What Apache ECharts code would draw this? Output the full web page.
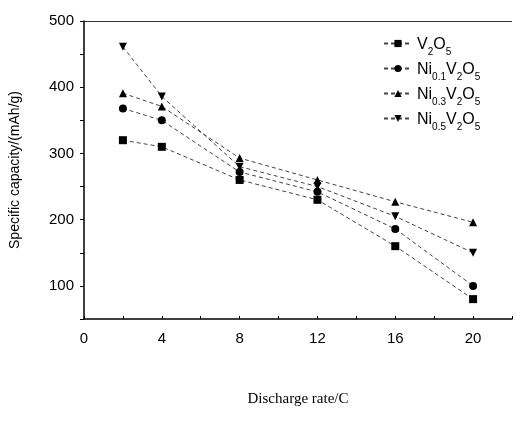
<!DOCTYPE html>
<html><head><meta charset="utf-8">
<script src="https://cdn.jsdelivr.net/npm/echarts@6/dist/echarts.min.js"></script>
<style>html,body{margin:0;padding:0;background:#fff}#c{width:515px;height:429px}</style>
</head><body><div id="c"></div>
<script>
var rates = [2, 4, 8, 12, 16, 20];
var v2o5 = [320, 310, 260, 230, 160, 80];
var ni01 = [368, 350, 272, 242, 186, 100];
var ni03 = [391, 371, 293, 260, 227, 196];
var ni05 = [461, 386, 280, 250, 205, 150];
var seriesNames = ['V2O5', 'Ni0.1V2O5', 'Ni0.3V2O5', 'Ni0.5V2O5'];
var legendRich = {
  'V2O5': '{n|V}{s|2}{n|O}{s|5}',
  'Ni0.1V2O5': '{n|Ni}{s|0.1}{n|V}{s|2}{n|O}{s|5}',
  'Ni0.3V2O5': '{n|Ni}{s|0.3}{n|V}{s|2}{n|O}{s|5}',
  'Ni0.5V2O5': '{n|Ni}{s|0.5}{n|V}{s|2}{n|O}{s|5}'
};
var symbols = ['rect', 'circle', 'triangle', 'path://M0,0 L10,0 L5,9 Z'];
var dataSets = [v2o5, ni01, ni03, ni05];

var chart = echarts.init(document.getElementById('c'));
var series = dataSets.map(function (d, i) {
  return {
    name: seriesNames[i],
    type: 'line',
    data: d.map(function (v, j) { return [rates[j], v]; }),
    symbol: symbols[i],
    symbolSize: 8,
    showSymbol: true,
    itemStyle: { color: '#000' },
    lineStyle: { color: '#444', width: 1, type: [4, 3] },
    z: 3
  };
});
chart.setOption({
  animation: false,
  backgroundColor: '#fff',
  grid: { left: 83, right: 1, top: 21, bottom: 110 },
  legend: {
    orient: 'vertical',
    left: 378, top: 32,
    itemWidth: 28, itemHeight: 9, itemGap: 5,
    data: seriesNames,
    formatter: function (n) { return legendRich[n]; },
    textStyle: {
      color: '#000',
      rich: {
        n: { fontFamily: 'Liberation Sans', fontSize: 16, color: '#000', verticalAlign: 'bottom', lineHeight: 19 },
        s: { fontFamily: 'Liberation Sans', fontSize: 10, color: '#000', verticalAlign: 'bottom', lineHeight: 12, padding: [0, 0, -4, 0] }
      }
    }
  },
  xAxis: {
    type: 'value', min: 0, max: 22, interval: 2,
    name: 'Discharge rate/C', nameLocation: 'middle', nameGap: 73,
    nameTextStyle: { fontFamily: 'Liberation Serif', fontSize: 15, color: '#000' },
    axisLine: { onZero: false, lineStyle: { color: '#000', width: 1.5 } },
    axisTick: { inside: true, length: 3, lineStyle: { color: '#000' } },
    axisLabel: { fontFamily: 'Liberation Sans', fontSize: 15, color: '#000', margin: 12,
      formatter: function (v) { return (v % 4 === 0 && v <= 20) ? String(v) : ''; } },
    splitLine: { show: false }
  },
  yAxis: {
    type: 'value', min: 50, max: 500, interval: 50,
    name: 'Specific capacity/(mAh/g)', nameLocation: 'middle', nameGap: 62,
    nameTextStyle: { fontFamily: 'Liberation Sans', fontSize: 14, color: '#000' },
    axisLine: { onZero: false, lineStyle: { color: '#000', width: 1.5 } },
    axisTick: { length: 4, lineStyle: { color: '#000' } },
    axisLabel: { fontFamily: 'Liberation Sans', fontSize: 15, color: '#000', margin: 10,
      formatter: function (v) { return v % 100 === 0 ? String(v) : ''; } },
    splitLine: { show: false }
  },
  series: series.concat([{
    type: 'line', data: [], silent: true,
    markLine: { silent: true, symbol: 'none', label: { show: false },
      lineStyle: { color: '#333', width: 1, type: 'solid' },
      data: [[{ coord: [0, 500] }, { coord: [22, 500] }]] }
  }])
});
</script></body></html>
